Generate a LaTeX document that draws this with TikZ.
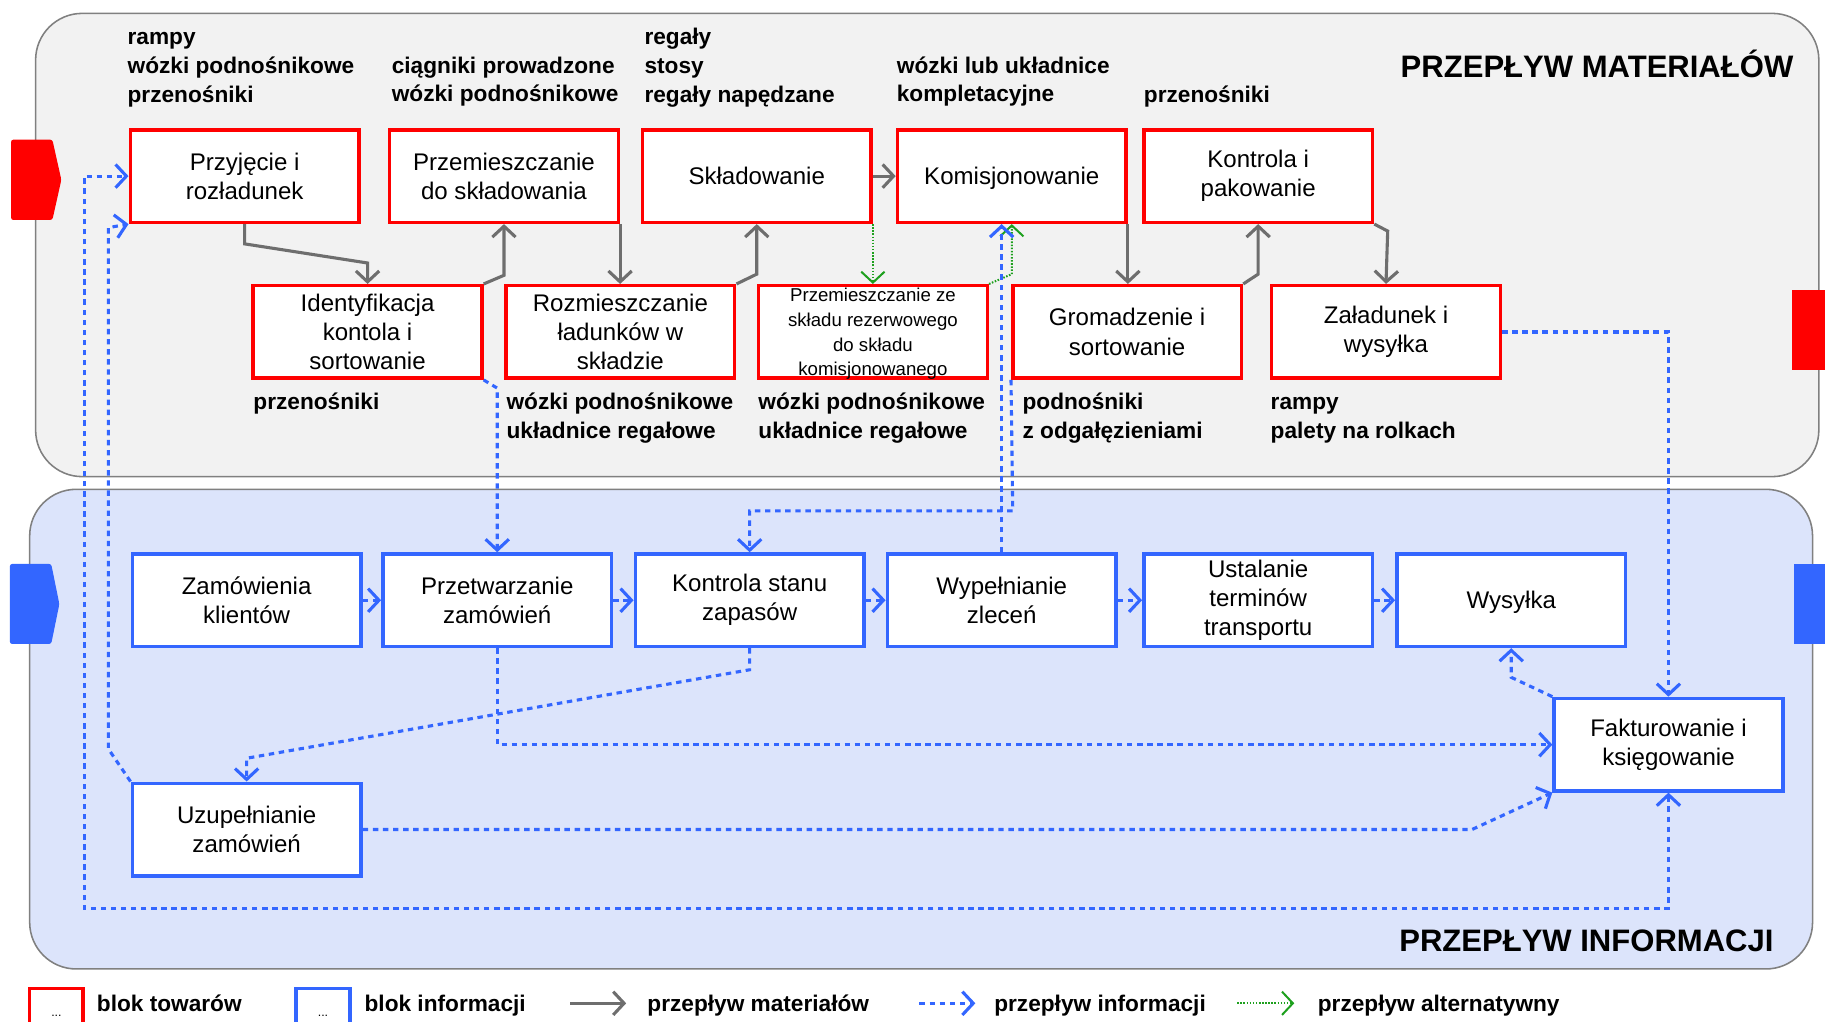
\documentclass[tikz,border=0pt]{standalone}
\usepackage{fontspec}
\setmainfont{Liberation Sans}
\usepackage{tikz}
\usetikzlibrary{arrows.meta,calc}

\definecolor{matgray}{RGB}{110,110,110}
\definecolor{infoblue}{RGB}{51,102,255}
\definecolor{altgreen}{RGB}{30,160,30}
\definecolor{panelgray}{RGB}{242,242,242}
\definecolor{panelblue}{RGB}{220,228,251}
\definecolor{panelline}{RGB}{128,128,128}

\begin{document}
\begin{tikzpicture}[x=0.75pt,y=0.75pt,yscale=-1,xscale=1,
  >={Straight Barb[length=7pt,width=15pt]},
  towar/.style={draw=red, line width=2.25pt, fill=white, inner sep=1pt,
    minimum width=147.4pt, minimum height=59.6pt, align=center,
    font=\fontsize{15.5}{18.75}\selectfont},
  info/.style={towar, draw=infoblue},
  lbl/.style={anchor=north west, inner sep=0pt, align=left,
    font=\fontsize{14.6}{18.5}\selectfont\bfseries},
  legtxt/.style={anchor=base west, inner sep=0pt, font=\fontsize{14.6}{18.5}\selectfont\bfseries},
  bigtitle/.style={anchor=base east, inner sep=0pt, font=\fontsize{20}{24}\selectfont\bfseries},
  legbox/.style={minimum width=34.5pt, minimum height=34.5pt, font=\fontsize{8}{9}\selectfont},
  matflow/.style={->, draw=matgray, line width=2pt},
  infoflow/.style={->, draw=infoblue, line width=2pt, dash pattern=on 3.5pt off 3pt},
  altflow/.style={->, draw=altgreen, line width=1.3pt, dash pattern=on 1pt off 1pt},
  sidetab/.style={rounded corners=1.5pt},
]
\useasboundingbox (0,0) rectangle (1568,878);

%Rounded Rect
\draw [draw=panelline, fill=panelgray, line width=1pt, rounded corners=30pt] (30.6,11.5) rectangle (1562.7,409.5);
%Rounded Rect
\draw [draw=panelline, fill=panelblue, line width=1pt, rounded corners=30pt] (25.5,420.4) rectangle (1557.3,832.5);

%Shape: Tabs
\fill [red, sidetab] (9.5,120) -- (45,120) -- (52.7,154.5) -- (45,189) -- (9.5,189) -- cycle;
\fill [red] (1539.5,249) rectangle (1575,318);
\fill [infoblue, sidetab] (8.5,484.5) -- (44,484.5) -- (51,519) -- (44,553.3) -- (8.5,553.3) -- cycle;
\fill [infoblue] (1541,484.5) rectangle (1575,553);

% Text Node
\node [towar] (przyjecie) at (210.2,151.3) {Przyjęcie i\\rozładunek};
\node [towar] (przemieszcz) at (433,151.3) {Przemieszczanie\\do składowania};
\node [towar, text depth=0pt] (skladow) at (650.2,151.3) {Składowanie};
\node [towar, text depth=0pt] (komis) at (869.3,151.3) {Komisjonowanie};
\node [towar] (kontrola) at (1081,151.3) {Kontrola i\\pakowanie};
\node [towar] (identyf) at (315.8,285.2) {Identyfikacja\\kontola i\\sortowanie};
\node [towar] (rozmiesz) at (533,285.2) {Rozmieszczanie\\ładunków w\\składzie};
\node [towar, inner ysep=0pt, text depth=0pt, font=\fontsize{12}{16}\selectfont] (rezerw) at (750,285.2) {Przemieszczanie ze\\składu rezerwowego\\do składu\\komisjonowanego};
\node [towar] (gromadz) at (968.4,285.2) {Gromadzenie i\\sortowanie};
\node [towar] (zaladunek) at (1190.8,285.2) {Załadunek i\\wysyłka};

% Text Node
\node [info] (zamow) at (211.9,515.7) {Zamówienia\\klientów};
\node [info] (przetw) at (427.2,515.7) {Przetwarzanie\\zamówień};
\node [info] (stan) at (644.1,515.7) {Kontrola stanu\\zapasów};
\node [info] (wypeln) at (860.6,515.7) {Wypełnianie\\zleceń};
\node [info] (ustal) at (1081,515.7) {Ustalanie\\terminów\\transportu};
\node [info, text depth=0pt] (wysylka) at (1298.4,515.7) {Wysyłka};
\node [info] (faktur) at (1433.5,639.8) {Fakturowanie i\\księgowanie};
\node [info] (uzupel) at (211.9,712.7) {Uzupełnianie\\zamówień};

% Text Node
\node [lbl] (srodprzyj) at (109.4,20.9) {\strut rampy\\wózki podnośnikowe\\przenośniki};
\node [lbl] (srodprzem) at (336.4,45.3) {\strut ciągniki prowadzone\\wózki podnośnikowe};
\node [lbl] (srodsklad) at (553.5,20.9) {\strut regały\\stosy\\regały napędzane};
\node [lbl] (srodkomis) at (770.3,45.3) {\strut wózki lub układnice\\kompletacyjne};
\node [lbl] (srodkontr) at (982.6,70.2) {\strut przenośniki};
\node [lbl] (srodident) at (217.5,334.5) {\strut przenośniki};
\node [lbl] (srodrozm) at (435,334.5) {\strut wózki podnośnikowe\\układnice regałowe};
\node [lbl] (srodrez) at (651.4,334.5) {\strut wózki podnośnikowe\\układnice regałowe};
\node [lbl] (srodgrom) at (878.3,334.5) {\strut podnośniki\\z odgałęzieniami};
\node [lbl] (srodzal) at (1091.5,334.5) {\strut rampy\\palety na rolkach};

% Text Node
\node [bigtitle] (tytmat) at (1541,66.4) {PRZEPŁYW MATERIAŁÓW};
\node [bigtitle] (tytinf) at (1524,817.5) {PRZEPŁYW INFORMACJI};

%Straight Lines: material flow
\draw [matflow] (przyjecie.south) -- ++(0,17) -- ($(identyf.north)+(0,-18)$) -- (identyf.north);
\draw [matflow] (identyf.north east) -- ($(przemieszcz.south)+(0,44)$) -- (przemieszcz.south);
\draw [matflow] (przemieszcz.south east) -- (przemieszcz.south east |- rozmiesz.north);
\draw [matflow] (rozmiesz.north east) -- ($(skladow.south)+(0,43)$) -- (skladow.south);
\draw [matflow] (skladow.east) -- (komis.west);
\draw [matflow] (komis.south east) -- (komis.south east |- gromadz.north);
\draw [matflow] (gromadz.north east) -- ($(kontrola.south)+(0,43)$) -- (kontrola.south);
\draw [matflow] (kontrola.south east) -- ++(11.5,6) -- (zaladunek.north);

%Straight Lines: alternative flow
\draw [altflow] (skladow.south east) -- (skladow.south east |- rezerw.north);
\draw [altflow] (rezerw.north east) -- ($(komis.south)+(0,43)$) -- (komis.south);

%Straight Lines: information flow
\foreach \a/\b in {zamow/przetw, przetw/stan, stan/wypeln, wypeln/ustal, ustal/wysylka}
  \draw [infoflow] (\a.east) -- (\b.west);
\draw [infoflow] (identyf.south east) -- ($(przetw.north)+(0,-141)$) -- (przetw.north);
\draw [infoflow] (gromadz.south west) -- ++(1.5,112.5) -| (stan.north);
\draw [infoflow] (wypeln.north) -- (wypeln.north |- komis.south);
\draw [infoflow] (zaladunek.east) -| (faktur.north);
\draw [infoflow] (faktur.north west) -- ($(wysylka.south)+(0,25)$) -- (wysylka.south);
\draw [infoflow] (przetw.south) |- (faktur.west);
\draw [infoflow] (stan.south) -- ++(0,18.5) -- ($(uzupel.north)+(0,-20)$) -- (uzupel.north);
\draw [infoflow] (uzupel.east) -- ++(953,0) -- (faktur.south west);
\draw [infoflow,<->] (faktur.south) -- ++(0,99.5) -| ($(przyjecie.west)+(-38,0)$) -- (przyjecie.west);
\draw [infoflow] (uzupel.north west) -- ++(-19,-28) -- ++(0,-447.9) -- (przyjecie.south west);

% Legend
\node [towar, legbox] (legtowar) at (48.5,872.5) {...};
\node [legtxt] (legtowartxt) at (83,869) {blok towarów};
\node [info, legbox] (leginfo) at (277.5,872.5) {...};
\node [legtxt] (leginfotxt) at (313,869) {blok informacji};
\coordinate (legmat1) at (490,862);
\coordinate (legmat2) at (538,862);
\draw [matflow] (legmat1) -- (legmat2);
\node [legtxt] (legmattxt) at (556,869) {przepływ materiałów};
\coordinate (leginf1) at (790,862);
\coordinate (leginf2) at (838,862);
\draw [infoflow] (leginf1) -- (leginf2);
\node [legtxt] (leginftxt) at (854,869) {przepływ informacji};
\coordinate (legalt1) at (1063,862);
\coordinate (legalt2) at (1112,862);
\draw [altflow] (legalt1) -- (legalt2);
\node [legtxt] (legalttxt) at (1132,869) {przepływ alternatywny};

\end{tikzpicture}
\end{document}
